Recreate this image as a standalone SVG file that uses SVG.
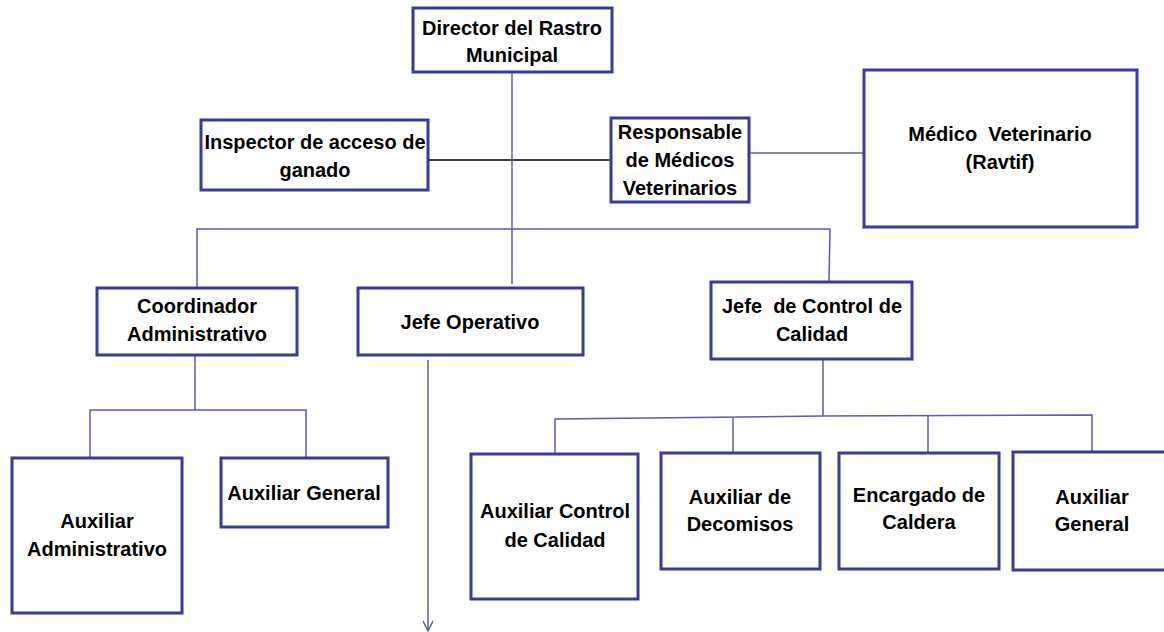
<svg xmlns="http://www.w3.org/2000/svg" width="1164" height="632" viewBox="0 0 1164 632">
<style>
.box{fill:#fff;stroke:#3a3a97;stroke-width:3}
.t{font-family:"Liberation Sans",Arial,sans-serif;font-weight:bold;font-size:20px;fill:#000;text-anchor:middle;white-space:pre}
.c{fill:none;stroke:#5c5cb0;stroke-width:1.5}
.k{fill:none;stroke:#000;stroke-width:1.5}
</style>
<defs>
<marker id="v" markerWidth="14" markerHeight="14" refX="11" refY="6" orient="auto" markerUnits="userSpaceOnUse">
<path d="M1,1 L11,6 L1,11" fill="none" stroke="#5c5cb0" stroke-width="1.5"/>
</marker>
</defs>
<rect width="1164" height="632" fill="#fff"/>
<g id="connectors">
<line class="k" x1="428" y1="160" x2="611" y2="160"/>
<line class="c" x1="749" y1="153" x2="864" y2="153"/>
<line class="c" x1="512" y1="72" x2="512" y2="284"/>
<polyline class="c" points="197,288 197,229 830,229 829,282"/>
<polyline class="c" points="195,355 195,410"/>
<polyline class="c" points="90,458 90,410 306,410 306,458"/>
<line class="c" x1="428" y1="360" x2="428" y2="631" marker-end="url(#v)"/>
<line class="c" x1="823" y1="359" x2="823" y2="416"/>
<polyline class="c" points="555,455 555,419 823,416 1092,415 1092,452"/>
<line class="c" x1="733" y1="418" x2="733" y2="453"/>
<line class="c" x1="928" y1="416" x2="928" y2="453"/>
</g>
<g id="director"><rect class="box" x="413" y="8" width="199" height="64"/><text class="t" x="512" y="35">Director del Rastro</text><text class="t" x="512" y="62">Municipal</text></g>
<g id="inspector"><rect class="box" x="201" y="120" width="227" height="70"/><text class="t" x="315" y="149">Inspector de acceso de</text><text class="t" x="315" y="177">ganado</text></g>
<g id="responsable"><rect class="box" x="611" y="118" width="138" height="84"/><text class="t" x="680" y="139">Responsable</text><text class="t" x="680" y="167">de Médicos</text><text class="t" x="680" y="195">Veterinarios</text></g>
<g id="medico"><rect class="box" x="864" y="70" width="273" height="157"/><text class="t" x="1000" y="141">Médico  Veterinario</text><text class="t" x="1000" y="169">(Ravtif)</text></g>
<g id="coordinador"><rect class="box" x="97" y="288" width="200" height="67"/><text class="t" x="197" y="313">Coordinador</text><text class="t" x="197" y="341">Administrativo</text></g>
<g id="jefe-operativo"><rect class="box" x="358" y="288" width="225" height="67"/><text class="t" x="470" y="329">Jefe Operativo</text></g>
<g id="jefe-control"><rect class="box" x="711" y="282" width="201" height="77"/><text class="t" x="812" y="313">Jefe  de Control de</text><text class="t" x="812" y="341">Calidad</text></g>
<g id="aux-admin"><rect class="box" x="12" y="458" width="170" height="155"/><text class="t" x="97" y="528">Auxiliar</text><text class="t" x="97" y="556">Administrativo</text></g>
<g id="aux-general-1"><rect class="box" x="221" y="458" width="167" height="69"/><text class="t" x="304" y="500">Auxiliar General</text></g>
<g id="aux-control"><rect class="box" x="471" y="454" width="167" height="145"/><text class="t" x="555" y="518">Auxiliar Control</text><text class="t" x="555" y="547">de Calidad</text></g>
<g id="aux-decomisos"><rect class="box" x="661" y="453" width="159" height="116"/><text class="t" x="740" y="504">Auxiliar de</text><text class="t" x="740" y="531">Decomisos</text></g>
<g id="encargado-caldera"><rect class="box" x="839" y="453" width="160" height="116"/><text class="t" x="919" y="502">Encargado de</text><text class="t" x="919" y="529">Caldera</text></g>
<g id="aux-general-2"><rect class="box" x="1013" y="452" width="160" height="118"/><text class="t" x="1092" y="504">Auxiliar</text><text class="t" x="1092" y="531">General</text></g>
</svg>
